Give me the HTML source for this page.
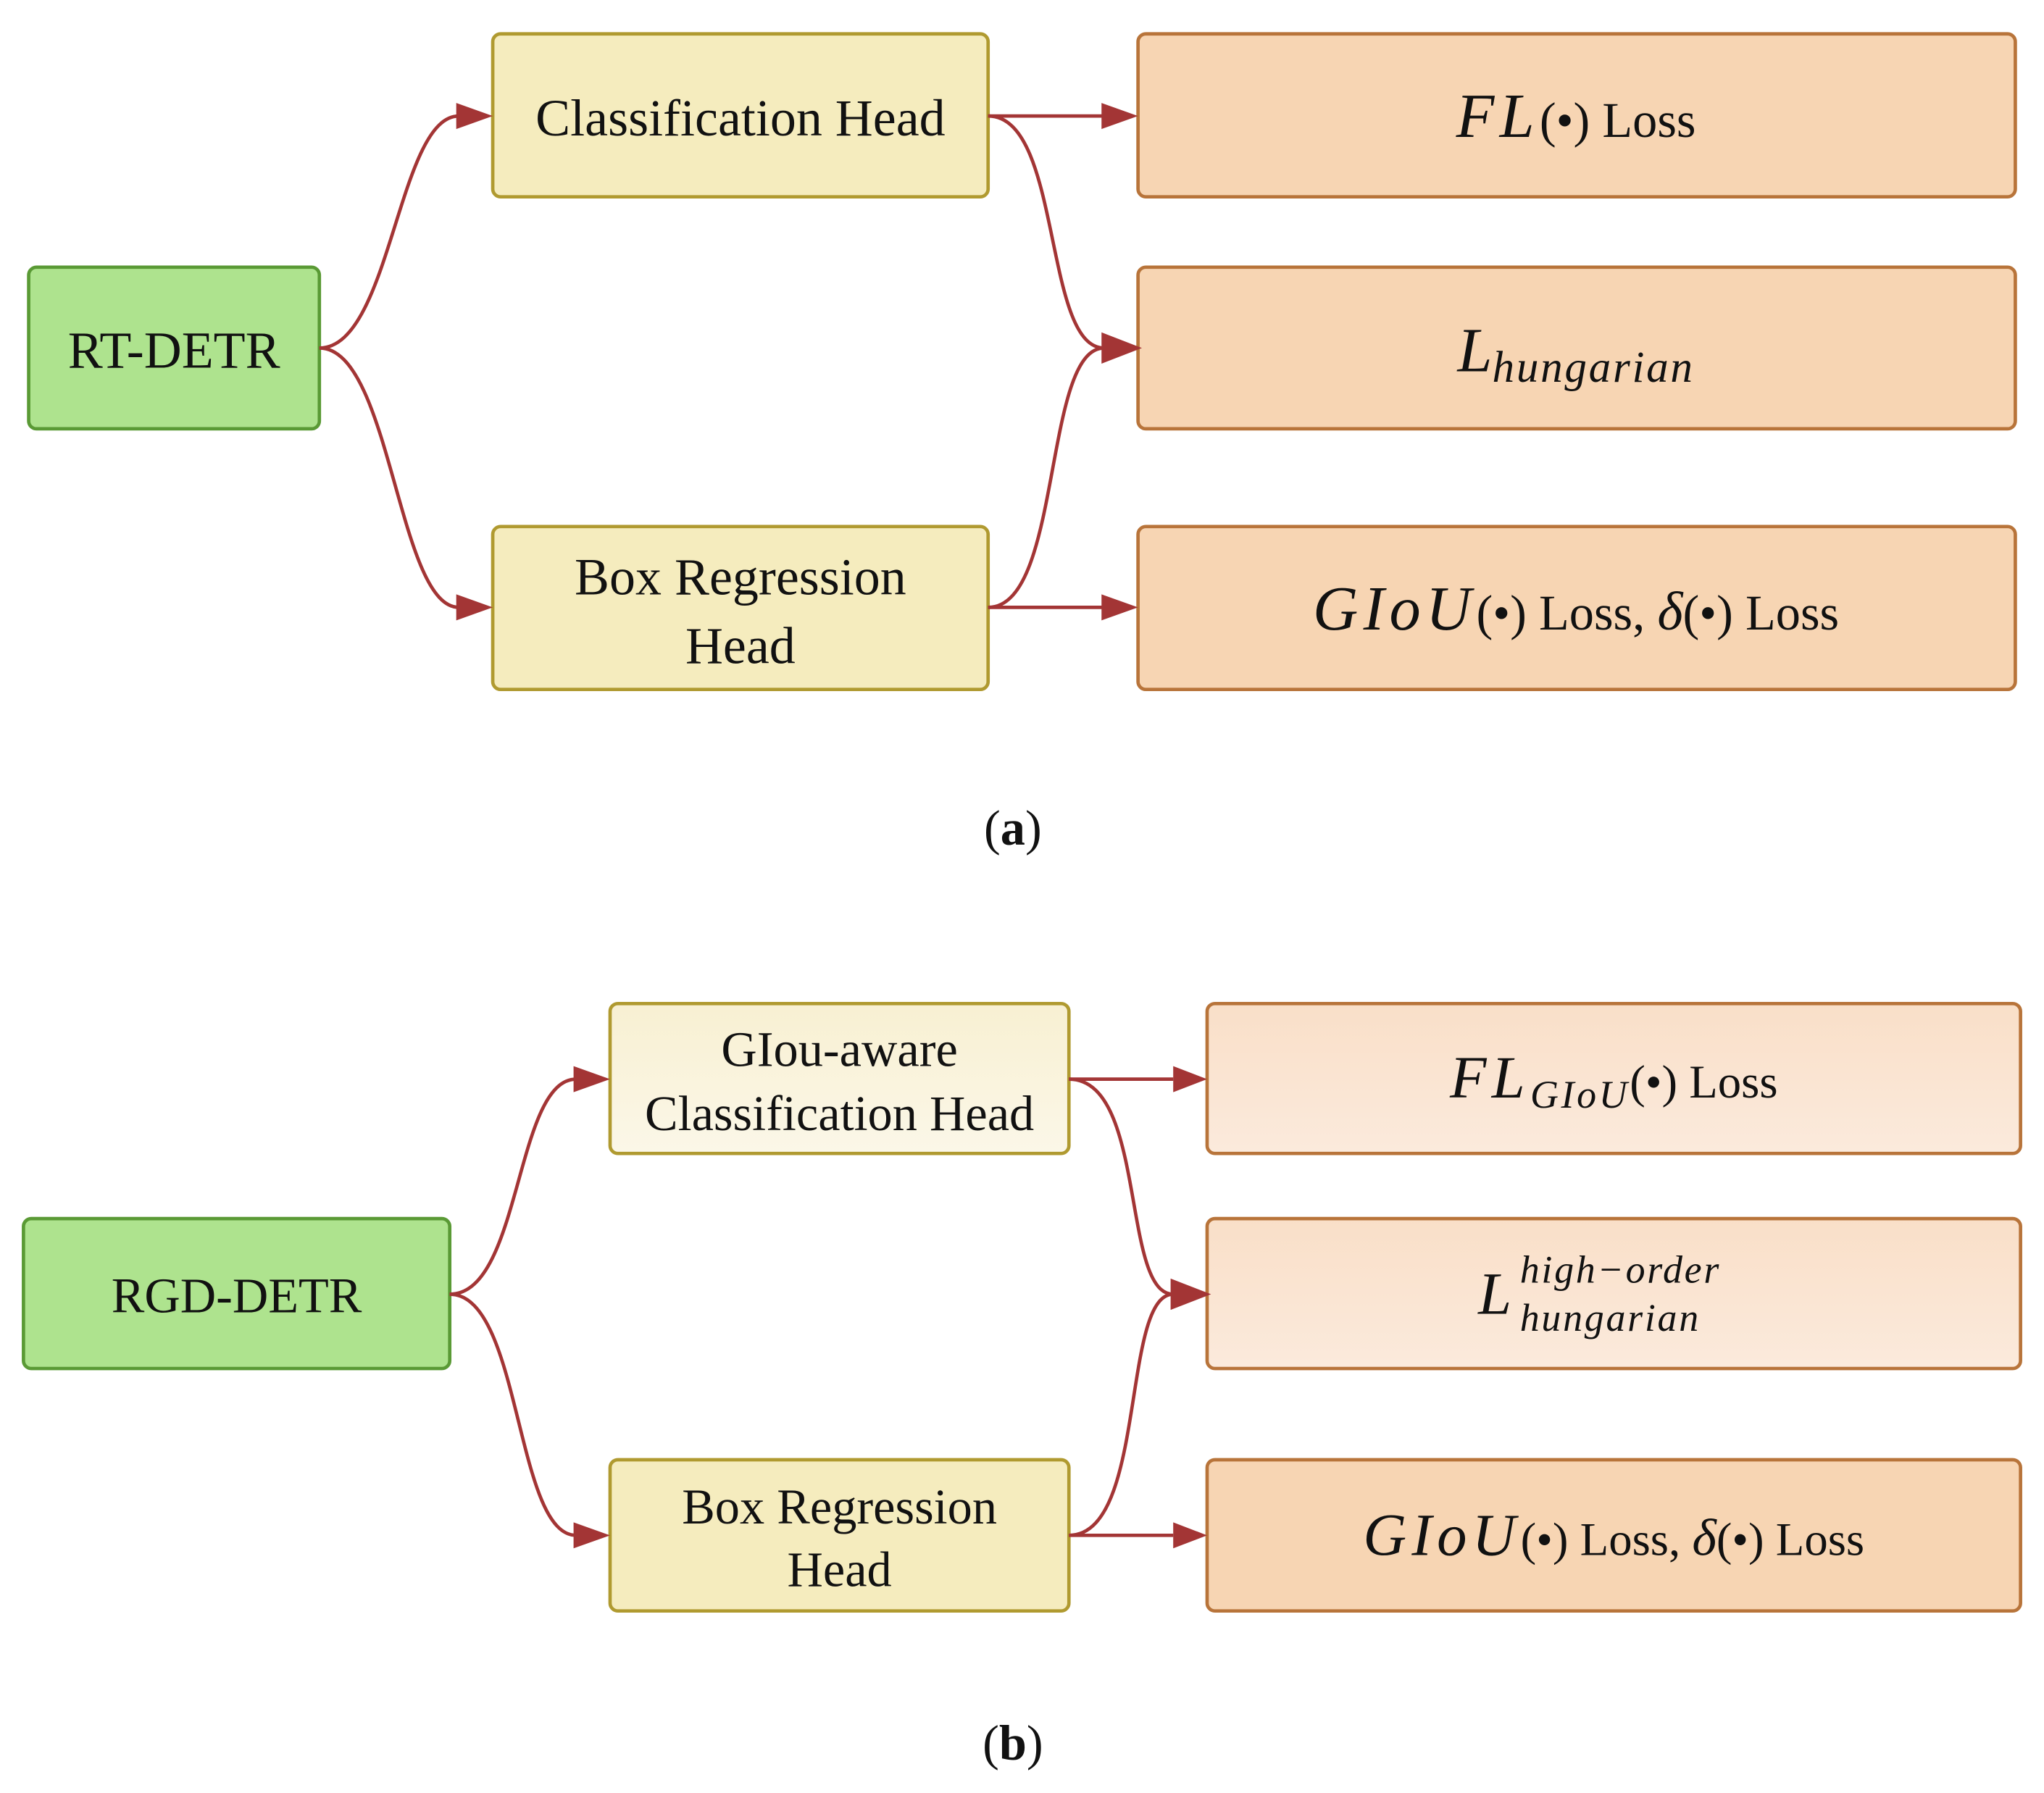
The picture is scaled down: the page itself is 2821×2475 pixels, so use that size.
<!DOCTYPE html>
<html><head><meta charset="utf-8"><style>
html,body{margin:0;padding:0;background:#fff;}
svg{display:block;}
text{font-family:"Liberation Serif","Times New Roman",serif;fill:#111;}
</style></head><body>
<svg width="2821" height="2475" viewBox="0 0 1568 1375.7" preserveAspectRatio="none" xmlns="http://www.w3.org/2000/svg" font-family="Liberation Serif, serif">
<defs>
<linearGradient id="lg" x1="0" y1="0" x2="0" y2="1"><stop offset="0" stop-color="#f8f0d2"/><stop offset="1" stop-color="#fbf7e8"/></linearGradient>
<linearGradient id="og" x1="0" y1="0" x2="0" y2="1"><stop offset="0" stop-color="#f9dfc8"/><stop offset="1" stop-color="#fbeadc"/></linearGradient>
</defs>
<g stroke-width="2.6">
<rect x="22" y="205" width="223" height="124" rx="6" fill="#aee38e" stroke="#5a9a35"/>
<rect x="378" y="26" width="380" height="125" rx="6" fill="#f5ecbe" stroke="#b09a30"/>
<rect x="378" y="404" width="380" height="125" rx="6" fill="#f5ecbe" stroke="#b09a30"/>
<rect x="873" y="26" width="673" height="125" rx="6" fill="#f7d5b3" stroke="#b8743a"/>
<rect x="873" y="205" width="673" height="124" rx="6" fill="#f7d5b3" stroke="#b8743a"/>
<rect x="873" y="404" width="673" height="125" rx="6" fill="#f7d5b3" stroke="#b8743a"/>
<rect x="18" y="935" width="327" height="115" rx="6" fill="#aee38e" stroke="#5a9a35"/>
<rect x="468" y="770" width="352" height="115" rx="6" fill="url(#lg)" stroke="#b09a30"/>
<rect x="468" y="1120" width="352" height="116" rx="6" fill="#f5ecbe" stroke="#b09a30"/>
<rect x="926" y="770" width="624" height="115" rx="6" fill="url(#og)" stroke="#b8743a"/>
<rect x="926" y="935" width="624" height="115" rx="6" fill="url(#og)" stroke="#b8743a"/>
<rect x="926" y="1120" width="624" height="116" rx="6" fill="#f7d5b3" stroke="#b8743a"/>
</g>
<g fill="none" stroke="#a33535" stroke-width="2.6">
<path d="M245,267 C300,267 305,89 352,89"/>
<path d="M245,267 C300,267 305,466 352,466"/>
<path d="M758,89 L847,89"/>
<path d="M758,89 C815,89 800,267 847,267"/>
<path d="M758,466 L847,466"/>
<path d="M758,466 C815,466 800,267 847,267"/>
<path d="M345,993 C400,993 395,828 442,828"/>
<path d="M345,993 C400,993 395,1178 442,1178"/>
<path d="M820,828 L900,828"/>
<path d="M820,828 C880,828 860,993 900,993"/>
<path d="M820,1178 L900,1178"/>
<path d="M820,1178 C880,1178 860,993 900,993"/>
</g>
<g fill="#a33535">
<polygon points="378,89 350,79 350,99"/>
<polygon points="378,466 350,456 350,476"/>
<polygon points="873,89 845,79 845,99"/>
<polygon points="876,267 845,255 845,279"/>
<polygon points="873,466 845,456 845,476"/>
<polygon points="468,828 440,818 440,838"/>
<polygon points="468,1178 440,1168 440,1188"/>
<polygon points="926,828 900,818 900,838"/>
<polygon points="929,993 898,981 898,1005"/>
<polygon points="926,1178 900,1168 900,1188"/>
</g>
<text x="133.5" y="282" font-size="40" text-anchor="middle">RT-DETR</text>
<text x="568" y="104" font-size="40" text-anchor="middle">Classification Head</text>
<text x="568" y="456" font-size="40" text-anchor="middle">Box Regression</text>
<text x="568" y="509" font-size="40" text-anchor="middle">Head</text>
<text x="1209" y="105" text-anchor="middle"><tspan font-size="48" font-style="italic" letter-spacing="4">FL</tspan><tspan font-size="38">(•) Loss</tspan></text>
<text x="1209" y="285" text-anchor="middle"><tspan font-size="48" font-style="italic">L</tspan><tspan font-size="34" font-style="italic" dy="8" letter-spacing="1.5">hungarian</tspan></text>
<text x="1209" y="483" text-anchor="middle"><tspan font-size="48" font-style="italic" letter-spacing="4">GIoU</tspan><tspan font-size="38">(•) Loss,   </tspan><tspan font-size="42" font-style="italic">δ</tspan><tspan font-size="38">(•) Loss</tspan></text>
<text x="777" y="648" font-size="38" text-anchor="middle">(<tspan font-weight="bold">a</tspan>)</text>
<text x="181.5" y="1007" font-size="38" text-anchor="middle">RGD-DETR</text>
<text x="644" y="818" font-size="38" text-anchor="middle">GIou-aware</text>
<text x="644" y="867" font-size="38" text-anchor="middle">Classification Head</text>
<text x="644" y="1169" font-size="38" text-anchor="middle">Box Regression</text>
<text x="644" y="1217" font-size="38" text-anchor="middle">Head</text>
<text x="1238" y="842" text-anchor="middle"><tspan font-size="46" font-style="italic" letter-spacing="4">FL</tspan><tspan font-size="30" font-style="italic" dy="8" letter-spacing="2">GIoU</tspan><tspan font-size="36" dy="-8">(•) Loss</tspan></text>
<text x="1134" y="1008" font-size="46" font-style="italic">L</text>
<text x="1166" y="984" font-size="30" font-style="italic" letter-spacing="1.5">high−order</text>
<text x="1166" y="1021" font-size="30" font-style="italic" letter-spacing="1.5">hungarian</text>
<text x="1238" y="1193" text-anchor="middle"><tspan font-size="46" font-style="italic" letter-spacing="4">GIoU</tspan><tspan font-size="36">(•) Loss,   </tspan><tspan font-size="40" font-style="italic">δ</tspan><tspan font-size="36">(•) Loss</tspan></text>
<text x="777" y="1350" font-size="38" text-anchor="middle">(<tspan font-weight="bold">b</tspan>)</text>
</svg>
</body></html>
